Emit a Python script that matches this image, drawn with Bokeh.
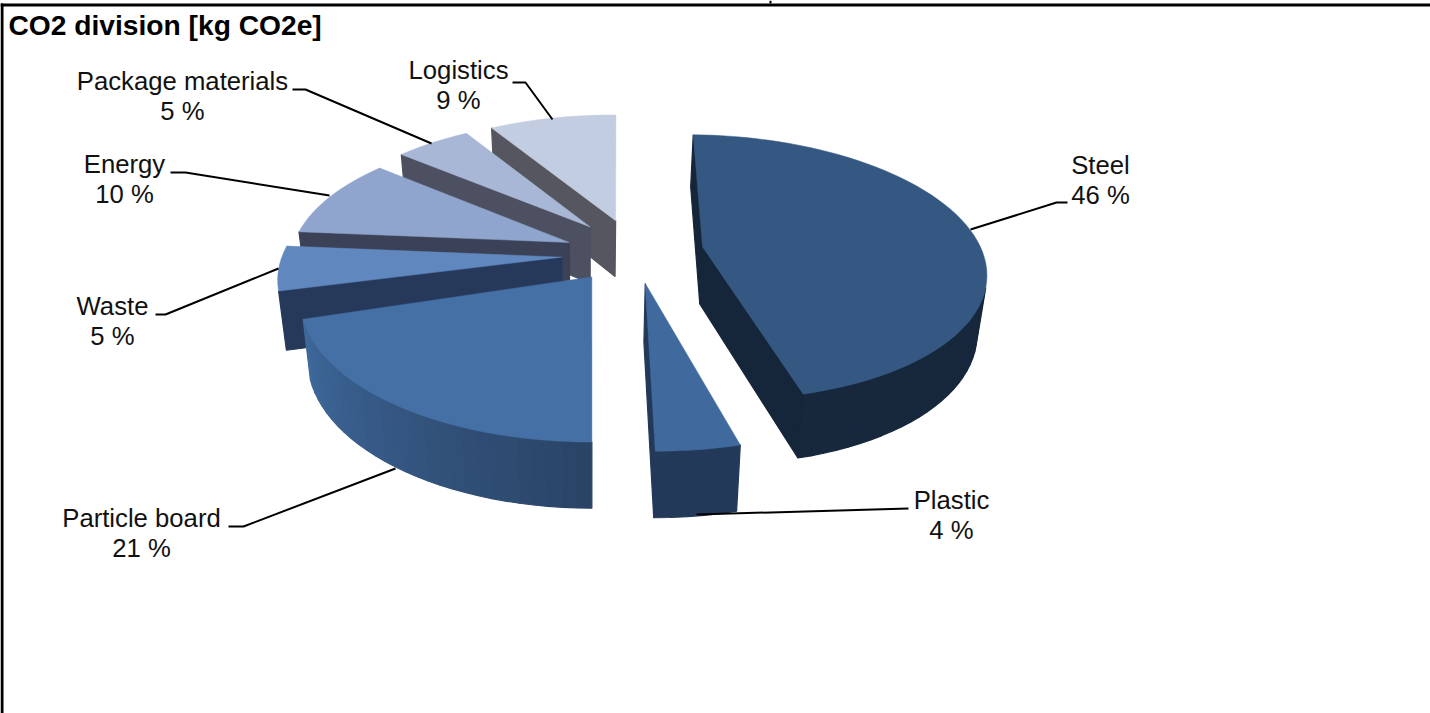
import math
from bokeh.plotting import figure
from bokeh.models import Range1d
from bokeh.core.properties import value
from bokeh.embed import file_html
from bokeh.resources import INLINE

# ---- data (percent shares, clockwise from 12 o'clock)
categories = ["Steel", "Plastic", "Particle board", "Waste", "Energy", "Package materials", "Logistics"]
shares = [46, 4, 21, 5, 10, 5, 9]
pct_labels = ["46 %", "4 %", "21 %", "5 %", "10 %", "5 %", "9 %"]
title_text = "CO2 division [kg CO2e]"

# ---- styles
top_colors = ["#355882", "#40699d", "#4470a6", "#6088bf", "#8fa5cd", "#a8b7d6", "#c3cde2"]
cut_colors = ["#16263a", "#23395a", "#2a4466", "#27395a", "#3b4257", "#4d5060", "#55565f"]
rim_start = ["#16263a", "#23395a", "#2a4466", "#27395a", "#3b4257", "#4d5060", "#55565f"]
rim_end = ["#17283d", "#23395a", "#3f6a9e", "#3a5680", "#3b4257", "#4d5060", "#55565f"]
draw_order = [6, 5, 4, 3, 0, 2, 1]

# ---- projection of the exploded pie
CX, CY, VX, VY, K = 633, 250, 591, -595, 0.00054
RX, RY, EXPLODE = 279, 286, 70
tweak_start = [1.3, 0, 0, 0, 1.3, 0.5, 1.8]
tweak_end = [0, 0, -2.5, 1.3, 0.5, 1.3, 0.8]
nudge_x = [0, 1, 0, -2, 0, 2, 1]
nudge_y = [0, 0, 0, 4, 4, 0, 0]


def project(gx, gy):
    w = 1 + K * gy
    return VX + (CX - VX + gx) / w, VY + (CY - VY) / w


def lower(pt):
    return VX + (pt[0] - VX) * 0.975, pt[1] + 52 + 0.046 * (pt[1] - 135)


def mix(a, b, t):
    ca = [int(a[i:i + 2], 16) for i in (1, 3, 5)]
    cb = [int(b[i:i + 2], 16) for i in (1, 3, 5)]
    return "#%02x%02x%02x" % tuple(round(u + (v - u) * t) for u, v in zip(ca, cb))


total = sum(shares)
bounds = [0.0]
for s in shares:
    bounds.append(bounds[-1] + 2 * math.pi * s / total)

xs, ys, fills, widths = [], [], [], []


def add(poly, color, width):
    xs.append([c[0] for c in poly])
    ys.append([c[1] for c in poly])
    fills.append(color)
    widths.append(width)


for i in draw_order:
    a0 = bounds[i] + math.radians(tweak_start[i])
    a1 = bounds[i + 1] + math.radians(tweak_end[i])
    mid = (a0 + a1) / 2
    ox, oy = EXPLODE * math.sin(mid), EXPLODE * math.cos(mid)
    n = max(3, int(math.degrees(a1 - a0) / 2.5))
    angles = [a0 + (a1 - a0) * j / n for j in range(n + 1)]
    apex = project(ox, oy)
    rim = [project(ox + RX * math.sin(a), oy + RY * math.cos(a)) for a in angles]
    poly = [(c[0] + nudge_x[i], c[1] + nudge_y[i]) for c in [apex] + rim]
    area = sum(poly[j][0] * poly[(j + 1) % len(poly)][1] - poly[(j + 1) % len(poly)][0] * poly[j][1]
               for j in range(len(poly)))
    for j in range(len(poly)):
        p_, q = poly[j], poly[(j + 1) % len(poly)]
        pb, qb = lower(p_), lower(q)
        ex, ey = (pb[0] + qb[0] - p_[0] - q[0]) / 2, (pb[1] + qb[1] - p_[1] - q[1]) / 2
        cross = (q[0] - p_[0]) * ey - (q[1] - p_[1]) * ex
        if cross * area < 0:
            if j == 0 or j == len(poly) - 1:
                col = cut_colors[i]
            else:
                col = mix(rim_start[i], rim_end[i], (j - 1) / n)
            add([p_, q, qb, pb], col, 1.2)
    add(poly, top_colors[i], 0.5)

p = figure(width=1430, height=713, x_range=Range1d(0, 1430), y_range=Range1d(713, 0),
           toolbar_location=None, output_backend="svg", min_border=0,
           outline_line_color=None)
p.axis.visible = False
p.grid.visible = False

p.patches(xs, ys, fill_color=fills, line_color=fills, line_width=widths)

# ---- frame
p.quad(left=[0, 0, 769], right=[3, 1430, 771], top=[3, 3, 0], bottom=[713, 6, 3],
       fill_color="black", line_color=None)

# ---- leader lines and labels (layout)
leaders = [
    [(970, 229), (1056, 202), (1067, 202)],
    [(696, 514), (908, 508)],
    [(395, 468), (243, 526), (228, 526)],
    [(278, 268), (165, 314), (155, 314)],
    [(329, 195), (185, 172), (170, 172)],
    [(431, 143), (305, 89), (292, 89)],
    [(552, 119), (525, 82), (512, 82)],
]
label_pos = [(1100, 164), (951, 499), (141, 517), (112, 305), (124, 163), (182, 80), (458, 69)]

p.multi_line([[c[0] for c in l] for l in leaders], [[c[1] for c in l] for l in leaders],
             line_color="black", line_width=2)
p.text([c[0] for c in label_pos], [c[1] for c in label_pos], text=categories,
       text_font=value("Liberation Sans"), text_font_size="25.7px", text_color="#111111",
       text_align="center", text_baseline="alphabetic")
p.text([c[0] for c in label_pos], [c[1] + 30 for c in label_pos], text=pct_labels,
       text_font=value("Liberation Sans"), text_font_size="25.7px", text_color="#111111",
       text_align="center", text_baseline="alphabetic")
p.text([8], [24], text=[title_text], text_font=value("Liberation Sans"), text_font_size="28.2px",
       text_font_style="bold", text_color="black", text_align="left", text_baseline="alphabetic")

open("out.html", "w").write(file_html(p, INLINE))
